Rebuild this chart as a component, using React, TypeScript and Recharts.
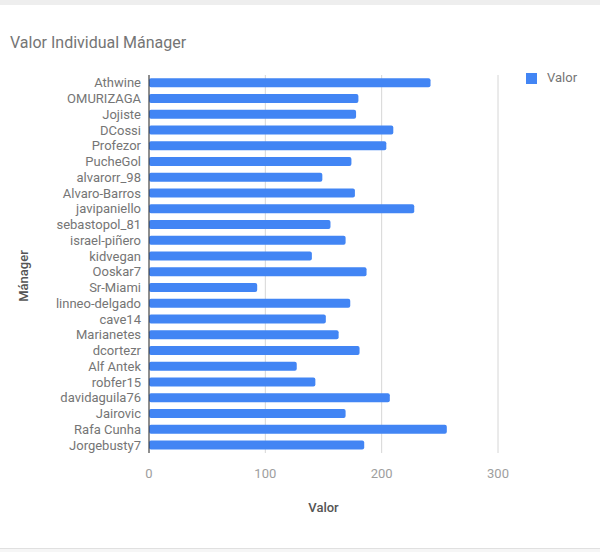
import { BarChart, Bar, XAxis, YAxis, CartesianGrid, Legend } from 'recharts';

const managers = [
    'Athwine', 'OMURIZAGA', 'Jojiste', 'DCossi', 'Profezor', 'PucheGol',
    'alvarorr_98', 'Alvaro-Barros', 'javipaniello', 'sebastopol_81', 'israel-piñero', 'kidvegan',
    'Ooskar7', 'Sr-Miami', 'linneo-delgado', 'cave14', 'Marianetes', 'dcortezr',
    'Alf Antek', 'robfer15', 'davidaguila76', 'Jairovic', 'Rafa Cunha', 'Jorgebusty7',
];
const valores = [
    242, 180, 178, 210, 204, 174,
    149, 177, 228, 156, 169, 140,
    187, 93, 173, 152, 163, 181,
    127, 143, 207, 169, 256, 185,
];
const xTicks = [0, 100, 200, 300];

const chartData = managers.map((name, i) => ({ name, Valor: valores[i] }));

const font = 'Roboto, "Noto Sans", Arial, sans-serif';

export default function App() {
    return (
        <div style={{ position: 'absolute', left: 0, top: 0, width: 600, height: 552, background: '#fff', fontFamily: font }}>
            {/* page chrome from the screenshot */}
            <div style={{ position: 'absolute', left: 0, top: 0, width: 600, height: 5, background: '#eeeeee' }} />
            <div style={{ position: 'absolute', left: 0, top: 548, width: 600, height: 4, background: '#f6f6f6', borderTop: '1px solid #e0e0e0' }} />

            <div style={{ position: 'absolute', left: 10, top: 33, fontSize: 16, color: '#757575' }}>
                Valor Individual Mánager
            </div>

            <BarChart
                width={600}
                height={552}
                data={chartData}
                layout="vertical"
                // legend width (70) is added to the right side, axis height (30) to the bottom
                margin={{ top: 75, right: 32, bottom: 69, left: 0 }}
                barCategoryGap="20%"
            >
                <CartesianGrid horizontal={false} stroke="#d6d6d6" />
                <XAxis
                    type="number"
                    domain={[0, 300]}
                    ticks={xTicks}
                    axisLine={false}
                    tickLine={false}
                    tickMargin={10}
                    tick={{ fill: '#9e9e9e', fontSize: 13, fontFamily: font }}
                    label={{ value: 'Valor', position: 'bottom', offset: 20, fill: '#555', fontSize: 13, fontFamily: font, fontWeight: 500 }}
                />
                <YAxis
                    type="category"
                    dataKey="name"
                    width={149}
                    interval={0}
                    axisLine={{ stroke: '#333' }}
                    tickLine={false}
                    tick={{ fill: '#757575', fontSize: 13, fontFamily: font }}
                    label={{
                        content: () => (
                            <text x={23} y={276} transform="rotate(-90 23 276)" textAnchor="middle" dominantBaseline="central" fill="#555" fontSize={13} fontWeight={500} fontFamily={font}>
                                Mánager
                            </text>
                        ),
                    }}
                />
                <Legend
                    layout="vertical"
                    align="right"
                    verticalAlign="top"
                    iconType="square"
                    iconSize={11}
                    wrapperStyle={{ top: 70, left: 526, width: 70, fontSize: 13 }}
                    formatter={(value) => <span style={{ color: '#757575', marginLeft: 6 }}>{value}</span>}
                />
                <Bar dataKey="Valor" fill="#4285f4" radius={2} isAnimationActive={false} />
            </BarChart>
        </div>
    );
}
